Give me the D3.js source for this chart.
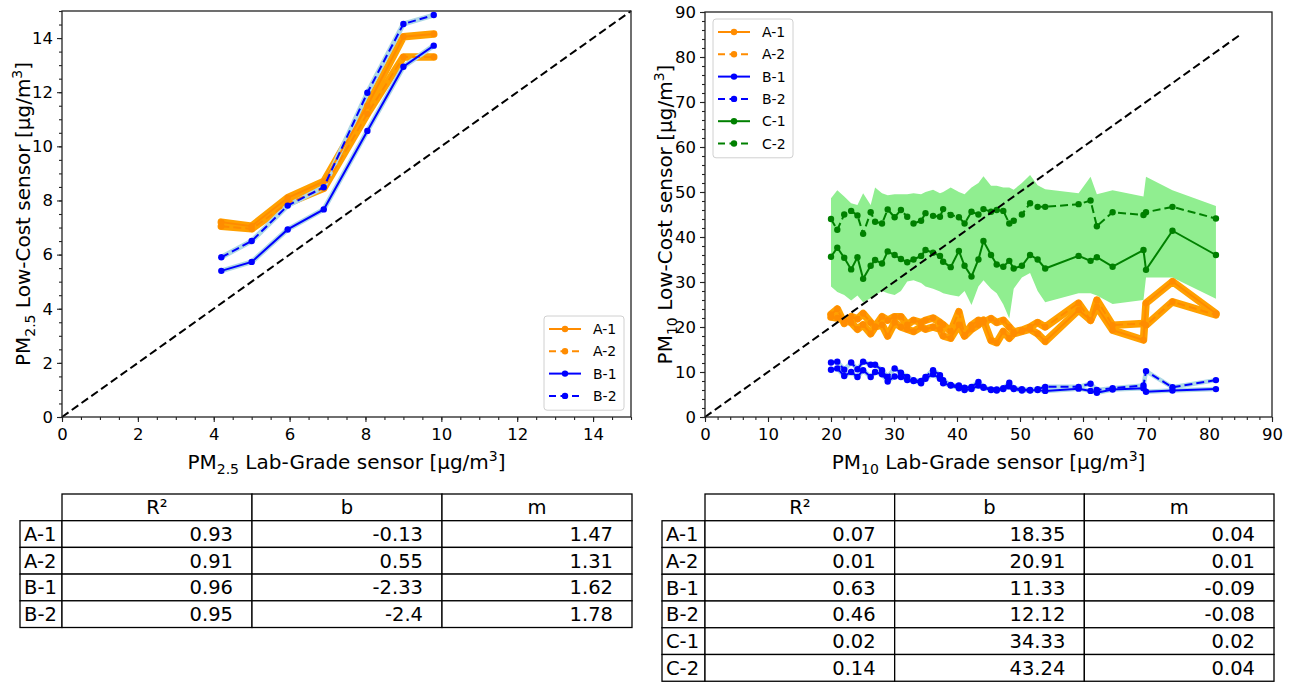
<!DOCTYPE html>
<html>
<head>
<meta charset="utf-8">
<script src="https://cdn.jsdelivr.net/npm/d3@7"></script>
<style>
body { margin: 0; background: #fff; }
svg { font-family: "DejaVu Sans", sans-serif; }
</style>
</head>
<body>
<svg id="fig" width="1293" height="683"></svg>
<script>
// ---------- data: PM2.5 ----------
var lab25 = [4.2, 5.0, 5.95, 6.9, 8.05, 9.0, 9.8];
var pm25_A1 = [7.2, 7.05, 8.1, 8.7, 11.5, 14.05, 14.15];
var pm25_A2 = [7.05, 6.95, 7.9, 8.45, 11.2, 13.3, 13.3];
var pm25_B1 = [5.4, 5.73, 6.93, 7.67, 10.57, 12.94, 13.72];
var pm25_B2 = [5.9, 6.5, 7.81, 8.49, 11.98, 14.52, 14.85];

// ---------- data: PM10 ----------
var lab10 = [20.0, 21.0, 22.1, 23.2, 24.2, 25.1, 26.3, 27.0, 28.1, 29.0, 30.1, 31.1, 32.1, 33.1,
  34.3, 35.0, 36.2, 37.3, 37.8, 39.0, 40.3, 41.2, 42.3, 43.4, 44.2, 45.4, 46.3, 47.35, 48.3,
  49.0, 50.3, 51.6, 52.8, 54.0, 59.3, 61.2, 62.2, 64.7, 69.6, 70.0, 74.2, 81.1];
var pm10_A1 = [22.2, 22.0, 21.5, 21.0, 19.5, 20.5, 18.5, 20.0, 20.5, 18.0, 21.0, 20.0, 19.5, 19.0,
  20.0, 19.5, 20.0, 19.5, 18.0, 17.5, 20.5, 18.0, 19.5, 20.5, 21.5, 17.0, 16.5, 19.0, 17.5,
  18.5, 19.0, 19.5, 18.5, 16.8, 23.8, 21.5, 24.5, 19.3, 17.1, 25.3, 30.1, 23.0];
var pm10_A2 = [22.8, 24.0, 20.8, 22.3, 21.8, 23.0, 21.0, 20.1, 22.3, 21.5, 22.3, 22.3, 20.5, 21.5,
  21.0, 21.5, 22.0, 21.0, 20.5, 19.0, 23.4, 18.2, 20.4, 21.5, 21.0, 21.9, 21.0, 21.5, 20.0,
  18.9, 19.3, 20.0, 21.0, 20.0, 25.3, 21.5, 26.0, 20.4, 20.8, 20.4, 25.6, 22.7];
var pm10_B1 = [10.5, 10.8, 9.1, 10.0, 8.9, 10.4, 8.9, 10.0, 9.5, 7.9, 9.0, 8.9, 8.2, 8.0,
  7.5, 8.5, 9.5, 8.5, 7.5, 7.0, 6.4, 6.0, 6.2, 7.0, 6.5, 6.0, 5.9, 6.2, 6.8,
  6.2, 5.9, 5.9, 6.0, 5.8, 6.3, 5.8, 5.4, 6.1, 6.4, 5.6, 5.9, 6.2];
var pm10_B2 = [12.1, 12.3, 10.5, 12.1, 10.6, 12.3, 11.6, 11.6, 10.4, 8.9, 10.8, 9.85, 8.9, 8.2,
  8.0, 8.9, 10.4, 9.3, 8.2, 7.1, 7.0, 6.5, 6.7, 7.8, 6.7, 6.15, 6.1, 6.4, 7.6,
  6.4, 6.2, 6.0, 6.2, 6.7, 6.7, 7.4, 6.0, 6.4, 7.0, 10.2, 6.6, 8.2];
var pm10_C1 = [35.6, 37.6, 35.4, 32.8, 35.5, 30.7, 33.6, 34.9, 34.1, 36.8, 36.0, 35.1, 34.4, 35.0,
  35.8, 37.1, 36.5, 35.8, 34.5, 33.3, 36.9, 33.6, 31.2, 35.0, 39.1, 36.0, 33.9, 33.4, 34.7,
  33.0, 33.6, 36.0, 35.0, 33.0, 35.8, 34.7, 35.5, 33.4, 37.1, 32.7, 41.4, 36.0];
var pm10_C2 = [44.0, 41.6, 45.0, 45.8, 44.8, 40.7, 45.5, 43.4, 43.0, 46.1, 44.4, 46.0, 44.5, 43.0,
  43.6, 45.3, 44.7, 44.5, 46.2, 44.9, 44.4, 43.0, 45.6, 45.0, 46.2, 45.6, 46.0, 45.8, 43.0,
  43.6, 45.0, 47.5, 46.7, 46.7, 47.3, 48.1, 42.4, 45.5, 44.9, 45.5, 46.7, 44.1];
var pm10_C_low = [29.0, 27.8, 27.1, 25.9, 27.0, 25.5, 26.4, 27.0, 28.0, 27.5, 27.1, 28.0, 30.1, 30.4,
  29.8, 29.0, 28.5, 27.9, 27.5, 27.1, 26.8, 28.0, 24.9, 29.0, 30.4, 28.5, 27.5, 25.0, 21.9,
  28.5, 31.0, 32.0, 28.0, 25.5, 27.5, 27.5, 27.0, 25.1, 26.0, 31.0, 31.0, 26.3];
var pm10_C_high = [48.6, 50.4, 49.0, 47.5, 47.1, 49.7, 47.1, 51.0, 49.7, 49.3, 49.5, 49.5, 49.5, 49.7,
  49.5, 50.0, 50.5, 49.7, 50.0, 51.0, 50.0, 49.5, 51.0, 52.0, 53.5, 51.4, 51.4, 51.0, 51.0,
  50.5, 52.0, 53.8, 51.5, 50.6, 49.7, 53.4, 49.5, 50.4, 49.0, 53.4, 50.4, 46.9];

// ---------- tables ----------
var tableCols = ["R\u00b2", "b", "m"];
var rows25 = ["A-1", "A-2", "B-1", "B-2"];
var r2_25 = ["0.93", "0.91", "0.96", "0.95"];
var b_25 = ["-0.13", "0.55", "-2.33", "-2.4"];
var m_25 = ["1.47", "1.31", "1.62", "1.78"];
var rows10 = ["A-1", "A-2", "B-1", "B-2", "C-1", "C-2"];
var r2_10 = ["0.07", "0.01", "0.63", "0.46", "0.02", "0.14"];
var b_10 = ["18.35", "20.91", "11.33", "12.12", "34.33", "43.24"];
var m_10 = ["0.04", "0.01", "-0.09", "-0.08", "0.02", "0.04"];

var svg = d3.select("#fig");

var colors = { A: "#ff8c00", B: "#0000ff", C: "#008000" };
var halo = { A: "#ffa000", B: "#add8e6" };

function panel(opt) {
  var x = d3.scaleLinear().domain(opt.dom).range(opt.xr);
  var y = d3.scaleLinear().domain(opt.dom).range(opt.yr);
  var g = svg.append("g");

  if (opt.band) {
    var area = d3.area()
      .x(function (d, i) { return x(opt.xs[i]); })
      .y0(function (d) { return y(d[0]); })
      .y1(function (d) { return y(d[1]); });
    g.append("path")
      .datum(d3.zip(opt.band[0], opt.band[1]))
      .attr("d", area)
      .attr("fill", "#90ee90");
  }

  var line = d3.line()
    .x(function (d) { return x(d[0]); })
    .y(function (d) { return y(d[1]); });

  // halos first
  opt.series.forEach(function (s) {
    if (!halo[s.grp]) return;
    g.append("path")
      .datum(d3.zip(opt.xs, s.vals))
      .attr("d", line)
      .attr("fill", "none")
      .attr("stroke", halo[s.grp])
      .attr("stroke-width", s.grp === "A" ? opt.haloA : opt.haloB)
      .attr("stroke-linejoin", "round")
      .attr("stroke-linecap", "round");
  });

  opt.series.forEach(function (s) {
    var c = colors[s.grp];
    g.append("path")
      .datum(d3.zip(opt.xs, s.vals))
      .attr("d", line)
      .attr("fill", "none")
      .attr("stroke", c)
      .attr("stroke-width", 2)
      .attr("stroke-dasharray", s.dash ? "8,4" : null);
    g.selectAll(null)
      .data(d3.zip(opt.xs, s.vals))
      .enter().append("circle")
      .attr("cx", function (d) { return x(d[0]); })
      .attr("cy", function (d) { return y(d[1]); })
      .attr("r", 3.2)
      .attr("fill", c);
  });

  // 1:1 line
  g.append("line")
    .attr("x1", x(0)).attr("y1", y(0))
    .attr("x2", x(opt.diag)).attr("y2", y(opt.diag))
    .attr("stroke", "#000")
    .attr("stroke-width", 2)
    .attr("stroke-dasharray", "8,4");

  // axes
  var xMinor = d3.axisBottom(x).tickValues(d3.range(opt.dom[0], opt.dom[1] + 1e-9, opt.minor))
    .tickFormat("").tickSize(3).tickSizeOuter(0);
  var yMinor = d3.axisLeft(y).tickValues(d3.range(opt.dom[0], opt.dom[1] + 1e-9, opt.minor))
    .tickFormat("").tickSize(3).tickSizeOuter(0);
  var xMajor = d3.axisBottom(x).tickValues(d3.range(opt.dom[0], opt.dom[1] + 1e-9, opt.major))
    .tickSize(5).tickSizeOuter(0).tickPadding(6);
  var yMajor = d3.axisLeft(y).tickValues(d3.range(opt.dom[0], opt.dom[1] + 1e-9, opt.major))
    .tickSize(5).tickSizeOuter(0).tickPadding(4);

  [xMinor, xMajor].forEach(function (ax) {
    g.append("g").attr("transform", "translate(0," + opt.yr[0] + ")").call(ax)
      .call(function (a) { a.select(".domain").remove(); });
  });
  [yMinor, yMajor].forEach(function (ax) {
    g.append("g").attr("transform", "translate(" + opt.xr[0] + ",0)").call(ax)
      .call(function (a) { a.select(".domain").remove(); });
  });
  g.selectAll(".tick text").attr("font-size", 16.5).attr("font-family", "DejaVu Sans").attr("fill", "#000");
  g.selectAll(".tick line").attr("stroke", "#222").attr("stroke-width", 1.1);

  g.append("rect")
    .attr("x", opt.xr[0]).attr("y", opt.yr[1])
    .attr("width", opt.xr[1] - opt.xr[0]).attr("height", opt.yr[0] - opt.yr[1])
    .attr("fill", "none").attr("stroke", "#222").attr("stroke-width", 1.3);

  // labels
  var cx = (opt.xr[0] + opt.xr[1]) / 2, cy = (opt.yr[0] + opt.yr[1]) / 2;
  function label(t, txt) {
    t.attr("font-size", 20).attr("text-anchor", "middle").attr("fill", "#000");
    t.append("tspan").text("PM");
    t.append("tspan").text(opt.sub).attr("font-size", 14).attr("dy", 5);
    t.append("tspan").text(txt).attr("dy", -5);
    t.append("tspan").text("3").attr("font-size", 14).attr("dy", -8);
    t.append("tspan").text("]").attr("dy", 8);
  }
  label(g.append("text").attr("x", cx).attr("y", 469), " Lab-Grade sensor [\u00b5g/m");
  label(g.append("text").attr("transform", "translate(" + opt.ylabX + "," + cy + ") rotate(-90)"),
    " Low-Cost sensor [\u00b5g/m");

  // legend
  var L = opt.legend;
  var lg = g.append("g").attr("transform", "translate(" + L.x + "," + L.y + ")");
  lg.append("rect").attr("width", 80).attr("height", opt.series.length * 22.3 + 5)
    .attr("rx", 3).attr("fill", "#fff").attr("fill-opacity", 0.8)
    .attr("stroke", "#d0d0d0");
  opt.series.forEach(function (s, i) {
    var ly = 13 + i * 22.3;
    lg.append("line").attr("x1", 5).attr("x2", 37).attr("y1", ly).attr("y2", ly)
      .attr("stroke", colors[s.grp]).attr("stroke-width", 2)
      .attr("stroke-dasharray", s.dash ? "7,4.5" : null);
    lg.append("circle").attr("cx", 21).attr("cy", ly).attr("r", 3.2).attr("fill", colors[s.grp]);
    lg.append("text").attr("x", 49).attr("y", ly + 5).attr("font-size", 14).text(s.name);
  });
}

panel({
  dom: [0, 15], xr: [62, 631], yr: [417, 11], xs: lab25, diag: 15,
  major: 2, minor: 0.5, sub: "2.5", ylabX: 30, haloA: 7.5, haloB: 5,
  legend: { x: 544, y: 316 },
  series: [
    { name: "A-1", grp: "A", vals: pm25_A1 },
    { name: "A-2", grp: "A", vals: pm25_A2, dash: true },
    { name: "B-1", grp: "B", vals: pm25_B1 },
    { name: "B-2", grp: "B", vals: pm25_B2, dash: true }
  ]
});

panel({
  dom: [0, 90], xr: [705, 1272], yr: [417, 12], xs: lab10, diag: 85,
  major: 10, minor: 2, sub: "10", ylabX: 672, haloA: 7.5, haloB: 4.5,
  band: [pm10_C_low, pm10_C_high],
  legend: { x: 713, y: 19 },
  series: [
    { name: "A-1", grp: "A", vals: pm10_A1 },
    { name: "A-2", grp: "A", vals: pm10_A2, dash: true },
    { name: "B-1", grp: "B", vals: pm10_B1 },
    { name: "B-2", grp: "B", vals: pm10_B2, dash: true },
    { name: "C-1", grp: "C", vals: pm10_C1 },
    { name: "C-2", grp: "C", vals: pm10_C2, dash: true }
  ]
});

function table(opt) {
  var g = svg.append("g");
  var colW = (opt.x2 - opt.x1) / 3;
  var rh = opt.rh;
  var cols = [opt.r2, opt.b, opt.m];
  // header
  tableCols.forEach(function (c, j) {
    var cx = opt.x1 + j * colW;
    g.append("rect").attr("x", cx).attr("y", opt.y0).attr("width", colW).attr("height", rh)
      .attr("fill", "#fff").attr("stroke", "#000").attr("stroke-width", 1.3);
    g.append("text").attr("x", cx + colW / 2).attr("y", opt.y0 + rh / 2 + 7)
      .attr("text-anchor", "middle").attr("font-size", 19.5).text(c);
  });
  opt.rows.forEach(function (r, i) {
    var ry = opt.y0 + (i + 1) * rh;
    g.append("rect").attr("x", opt.x0).attr("y", ry).attr("width", opt.x1 - opt.x0).attr("height", rh)
      .attr("fill", "#fff").attr("stroke", "#000").attr("stroke-width", 1.3);
    g.append("text").attr("x", opt.x0 + 4).attr("y", ry + rh / 2 + 7)
      .attr("font-size", 19.5).text(r);
    cols.forEach(function (col, j) {
      var cx = opt.x1 + j * colW;
      g.append("rect").attr("x", cx).attr("y", ry).attr("width", colW).attr("height", rh)
        .attr("fill", "#fff").attr("stroke", "#000").attr("stroke-width", 1.3);
      g.append("text").attr("x", cx + colW - colW * 0.1).attr("y", ry + rh / 2 + 7)
        .attr("text-anchor", "end").attr("font-size", 19.5).text(col[i]);
    });
  });
}

table({ x0: 20, x1: 62, x2: 632, y0: 494, rh: 26.7, rows: rows25, r2: r2_25, b: b_25, m: m_25 });
table({ x0: 662, x1: 705, x2: 1274, y0: 494, rh: 26.75, rows: rows10, r2: r2_10, b: b_10, m: m_10 });
</script>
</body>
</html>
